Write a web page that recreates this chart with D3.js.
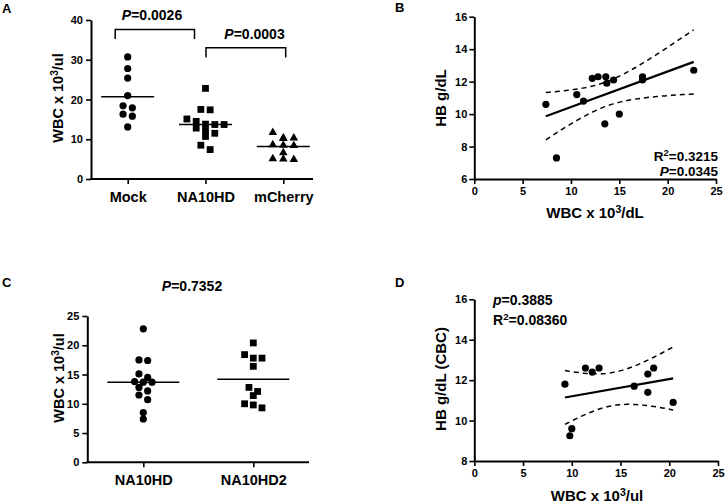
<!DOCTYPE html>
<html><head><meta charset="utf-8">
<script src="https://cdn.jsdelivr.net/npm/d3@7"></script>
<style>
body{margin:0;background:#fff}
svg text{font-family:Arial,"Liberation Sans",Helvetica,sans-serif;font-weight:bold;fill:#000}
</style></head>
<body><svg id="c" width="726" height="504"></svg>
<script>
// ---------- data ----------
const groupsA = ["Mock", "NA10HD", "mCherry"];
const mockWBC = [30.7, 27.8, 25.4, 21.0, 18.4, 17.9, 16.3, 15.8, 13.1];
const na10hdWBC = [22.8, 17.5, 17.4, 15.1, 14.5, 13.8, 13.7, 13.7, 12.8, 12.2, 11.5, 10.7, 8.5, 7.4];
const mcherryWBC = [11.7, 10.3, 10.2, 10.3, 8.6, 8.5, 8.4, 6.6, 5.0, 4.9, 5.1];
const pairsA = [["Mock", "NA10HD", "0.0026"], ["NA10HD", "mCherry", "0.0003"]];
const ticksA = [0, 10, 20, 30, 40];

const groupsC = ["NA10HD", "NA10HD2"];
const na10hd2WBC = [20.4, 18.4, 17.8, 17.8, 16.4, 12.8, 12.1, 11.4, 10.0, 9.8, 9.3];
const pC = "0.7352";
const ticksC = [0, 5, 10, 15, 20, 25];

const wbcB = [7.4, 8.5, 10.6, 11.3, 12.2, 12.8, 13.5, 13.6, 13.7, 14.4, 15.0, 17.4, 17.4, 22.7];
const hbB  = [10.6, 7.3, 11.2, 10.8, 12.2, 12.3, 9.4, 12.3, 11.9, 12.1, 10.0, 12.3, 12.1, 12.7];
const statsB = ["0.3215", "0.0345"];
const ticksBx = [0, 5, 10, 15, 20, 25];
const ticksBy = [6, 8, 10, 12, 14, 16];

const wbcD = [9.3, 9.8, 10.0, 11.4, 12.1, 12.8, 16.4, 17.8, 17.8, 18.4, 20.4];
const hbD  = [11.8, 9.25, 9.6, 12.6, 12.4, 12.6, 11.7, 12.3, 11.4, 12.6, 10.9];
const statsD = ["0.3885", "0.08360"];
const ticksDx = [0, 5, 10, 15, 20, 25];
const ticksDy = [8, 10, 12, 14, 16];

// ---------- helpers ----------
const svg = d3.select("#c");
const tCrit = {9: 2.262, 12: 2.179};

function styleAxis(g, w) {
  g.select(".domain").attr("stroke", "#000").attr("stroke-width", w || 2);
  g.selectAll(".tick line").attr("stroke", "#000").attr("stroke-width", 1.6);
  g.selectAll(".tick text").attr("fill", "#000").style("font-size", "11px")
    .style("font-family", "Arial, 'Liberation Sans', sans-serif").style("font-weight", "bold");
}

function swarm(values, y, binH, step) {
  const pts = values.map(v => ({v, py: y(v)})).sort((a, b) => a.py - b.py);
  const groups = []; let cur = null;
  for (const p of pts) {
    if (!cur || p.py - cur[0].py >= binH) { cur = [p]; groups.push(cur); } else cur.push(p);
  }
  groups.forEach(g => g.forEach((p, i) => p.dx = (i - (g.length - 1) / 2) * step));
  return pts;
}

function drawMarker(g, shape, x, y) {
  if (shape === "circle") g.append("circle").attr("cx", x).attr("cy", y).attr("r", 3.6).attr("fill", "#000");
  else if (shape === "square") g.append("rect").attr("x", x - 3.4).attr("y", y - 3.4).attr("width", 6.8).attr("height", 6.8).attr("fill", "#000");
  else g.append("path").attr("d", d3.symbol(d3.symbolTriangle, 32)()).attr("transform", `translate(${x},${y})`).attr("fill", "#000");
}

function yLabel(g, x, y, parts, size) {
  const t = g.append("text").attr("transform", `translate(${x},${y}) rotate(-90)`)
    .attr("text-anchor", "middle").style("font-size", size + "px");
  parts(t);
}

function wbcText(t, unit) {
  t.append("tspan").text("WBC x 10");
  t.append("tspan").attr("dy", -5).style("font-size", "70%").text("3");
  t.append("tspan").attr("dy", 5).text(unit);
}

function regression(g, xs, ys, x, y) {
  const n = xs.length, mx = d3.mean(xs), my = d3.mean(ys);
  let sxx = 0, sxy = 0, syy = 0;
  xs.forEach((xi, i) => { sxx += (xi - mx) ** 2; sxy += (xi - mx) * (ys[i] - my); syy += (ys[i] - my) ** 2; });
  const slope = sxy / sxx, b = my - slope * mx;
  const s = Math.sqrt((syy - slope * sxy) / (n - 2));
  const tc = tCrit[n - 2];
  const [x0, x1] = d3.extent(xs);
  const xsamp = d3.range(0, 41).map(i => x0 + (x1 - x0) * i / 40);
  const hw = xv => tc * s * Math.sqrt(1 / n + (xv - mx) ** 2 / sxx);
  const line = d3.line().x(d => x(d[0])).y(d => y(d[1]));
  g.append("path").attr("d", line([[x0, b + slope * x0], [x1, b + slope * x1]]))
    .attr("stroke", "#000").attr("stroke-width", 2.2).attr("fill", "none");
  [1, -1].forEach(sg => {
    g.append("path").attr("d", line(xsamp.map(xv => [xv, b + slope * xv + sg * hw(xv)])))
      .attr("stroke", "#000").attr("stroke-width", 1.5).attr("fill", "none").attr("stroke-dasharray", "5,4");
  });
}

function panelLabel(x, y, s) {
  svg.append("text").attr("x", x).attr("y", y).style("font-size", "13px").text(s);
}

// ---------- Panel A ----------
(function () {
  const g = svg.append("g");
  const y = d3.scaleLinear().domain([0, 40]).range([179, 20]);
  const x = d3.scalePoint().domain(groupsA).range([127.7, 283.3]);
  const ya = g.append("g").attr("transform", "translate(91,0)")
    .call(d3.axisLeft(y).tickValues(ticksA).tickSize(5).tickSizeOuter(0).tickPadding(3));
  styleAxis(ya);
  g.append("line").attr("x1", 90).attr("x2", 313).attr("y1", 179).attr("y2", 179).attr("stroke", "#000").attr("stroke-width", 2);
  const xa = g.append("g").attr("transform", "translate(0,179)")
    .call(d3.axisBottom(x).tickSize(5).tickSizeOuter(0).tickPadding(5));
  xa.select(".domain").remove();
  styleAxis(xa);
  xa.selectAll(".tick text").style("font-size", "14.5px").attr("dy", "0.9em");

  const sets = [[mockWBC, "circle", 9.3], [na10hdWBC, "square", 9.3], [mcherryWBC, "triangle", 10.5]];
  sets.forEach(([vals, shape, step], i) => {
    const cx = x(groupsA[i]);
    swarm(vals, y, 5.8, step).forEach(p => drawMarker(g, shape, cx + p.dx, p.py));
    g.append("line").attr("x1", cx - 26.5).attr("x2", cx + 26.5)
      .attr("y1", y(d3.mean(vals))).attr("y2", y(d3.mean(vals))).attr("stroke", "#000").attr("stroke-width", 1.5);
  });

  // significance brackets
  const br = [{x1: x(pairsA[0][0]) - 12.5, x2: x(pairsA[0][1]) - 11, top: 29.5, bot: 39, ty: 20, tx: 152},
              {x1: x(pairsA[1][0]) + 0.5, x2: x(pairsA[1][1]) + 2.4, top: 47.7, bot: 57.5, ty: 38.5, tx: 254.5}];
  br.forEach((b, i) => {
    g.append("path").attr("d", `M${b.x1},${b.bot}V${b.top}H${b.x2}V${b.bot}`)
      .attr("stroke", "#000").attr("stroke-width", 1.5).attr("fill", "none");
    const t = g.append("text").attr("x", b.tx).attr("y", b.ty).attr("text-anchor", "middle").style("font-size", "14px");
    t.append("tspan").style("font-style", "italic").text("P");
    t.append("tspan").text("=" + pairsA[i][2]);
  });

  yLabel(g, 62.5, 98, t => wbcText(t, "/ul"), 14.5);
  panelLabel(2, 13, "A");
})();

// ---------- Panel B ----------
(function () {
  const g = svg.append("g");
  const x = d3.scaleLinear().domain([0, 25]).range([474.3, 716]);
  const y = d3.scaleLinear().domain([6, 16]).range([179, 16.7]);
  const ya = g.append("g").attr("transform", "translate(474.3,0)")
    .call(d3.axisLeft(y).tickValues(ticksBy).tickSize(5).tickSizeOuter(0).tickPadding(2));
  styleAxis(ya);
  const xa = g.append("g").attr("transform", "translate(0,179)")
    .call(d3.axisBottom(x).tickValues(ticksBx).tickSize(5).tickSizeOuter(0).tickPadding(3));
  styleAxis(xa);
  regression(g, wbcB, hbB, x, y);
  wbcB.forEach((v, i) => drawMarker(g, "circle", x(v), y(hbB[i])));
  const t1 = g.append("text").attr("x", 718).attr("y", 161).attr("text-anchor", "end").style("font-size", "13.5px");
  t1.append("tspan").text("R");
  t1.append("tspan").attr("dy", -5).style("font-size", "70%").text("2");
  t1.append("tspan").attr("dy", 5).text("=" + statsB[0]);
  const t2 = g.append("text").attr("x", 718).attr("y", 175.5).attr("text-anchor", "end").style("font-size", "13.5px");
  t2.append("tspan").style("font-style", "italic").text("P");
  t2.append("tspan").text("=" + statsB[1]);
  yLabel(g, 446, 98, t => t.text("HB g/dL"), 15);
  const xl = g.append("text").attr("x", 595).attr("y", 218).attr("text-anchor", "middle").style("font-size", "15px");
  wbcText(xl, "/dL");
  panelLabel(395, 12, "B");
})();

// ---------- Panel C ----------
(function () {
  const g = svg.append("g");
  const y = d3.scaleLinear().domain([0, 25]).range([462.3, 316]);
  const x = d3.scalePoint().domain(groupsC).range([143.3, 253.3]);
  const ya = g.append("g").attr("transform", "translate(87.3,0)")
    .call(d3.axisLeft(y).tickValues(ticksC).tickSize(5).tickSizeOuter(0).tickPadding(3));
  styleAxis(ya);
  g.append("line").attr("x1", 86.3).attr("x2", 309).attr("y1", 462.3).attr("y2", 462.3).attr("stroke", "#000").attr("stroke-width", 2);
  const xa = g.append("g").attr("transform", "translate(0,462.3)")
    .call(d3.axisBottom(x).tickSize(5).tickSizeOuter(0).tickPadding(5));
  xa.select(".domain").remove();
  styleAxis(xa);
  xa.selectAll(".tick text").style("font-size", "14.5px").attr("dy", "0.85em");
  const sets = [[na10hdWBC, "circle"], [na10hd2WBC, "square"]];
  sets.forEach(([vals, shape], i) => {
    const cx = x(groupsC[i]);
    swarm(vals, y, 5.8, 8.7).forEach(p => drawMarker(g, shape, cx + p.dx, p.py));
    g.append("line").attr("x1", cx - 36).attr("x2", cx + 36)
      .attr("y1", y(d3.mean(vals))).attr("y2", y(d3.mean(vals))).attr("stroke", "#000").attr("stroke-width", 1.5);
  });
  const t = g.append("text").attr("x", 192).attr("y", 291).attr("text-anchor", "middle").style("font-size", "14px");
  t.append("tspan").style("font-style", "italic").text("P");
  t.append("tspan").text("=" + pC);
  yLabel(g, 63.5, 378, t => wbcText(t, "/ul"), 14.5);
  panelLabel(2, 287, "C");
})();

// ---------- Panel D ----------
(function () {
  const g = svg.append("g");
  const x = d3.scaleLinear().domain([0, 25]).range([474.3, 718]);
  const y = d3.scaleLinear().domain([8, 16]).range([461, 299.3]);
  const ya = g.append("g").attr("transform", "translate(474.3,0)")
    .call(d3.axisLeft(y).tickValues(ticksDy).tickSize(5).tickSizeOuter(0).tickPadding(2));
  styleAxis(ya);
  const xa = g.append("g").attr("transform", "translate(0,461)")
    .call(d3.axisBottom(x).tickValues(ticksDx).tickSize(5).tickSizeOuter(0).tickPadding(3));
  styleAxis(xa);
  regression(g, wbcD, hbD, x, y);
  wbcD.forEach((v, i) => drawMarker(g, "circle", x(v), y(hbD[i])));
  const t1 = g.append("text").attr("x", 493).attr("y", 305).style("font-size", "14px");
  t1.append("tspan").style("font-style", "italic").text("p");
  t1.append("tspan").text("=" + statsD[0]);
  const t2 = g.append("text").attr("x", 493).attr("y", 325).style("font-size", "14px");
  t2.append("tspan").text("R");
  t2.append("tspan").attr("dy", -5).style("font-size", "70%").text("2");
  t2.append("tspan").attr("dy", 5).text("=" + statsD[1]);
  yLabel(g, 446, 379, t => t.text("HB g/dL (CBC)"), 15);
  const xl = g.append("text").attr("x", 597).attr("y", 501).attr("text-anchor", "middle").style("font-size", "15px");
  wbcText(xl, "/ul");
  panelLabel(395, 287, "D");
})();
</script></body></html>
